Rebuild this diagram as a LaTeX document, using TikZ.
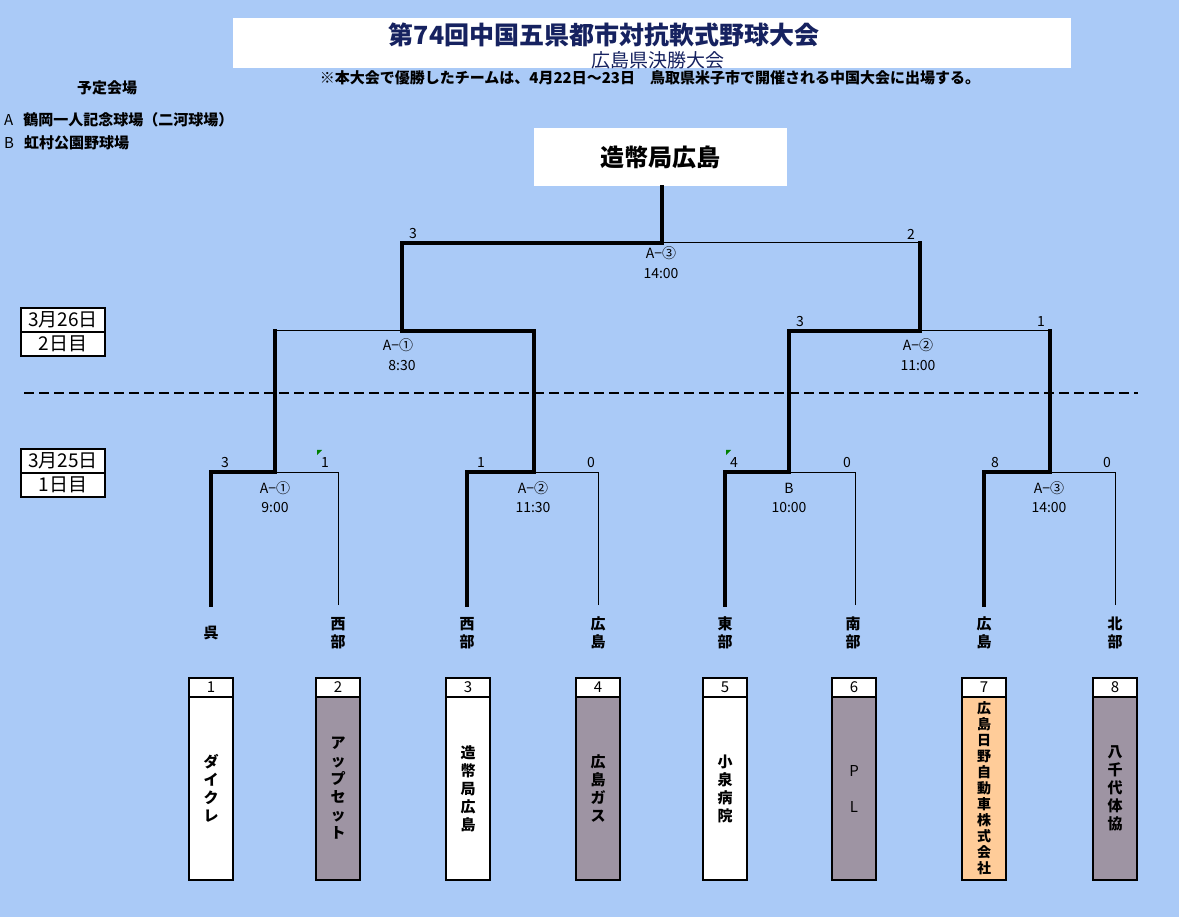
\documentclass[tikz,border=0pt]{standalone}
\usepackage{fontspec}
\setmainfont{Noto Sans CJK JP}
\usepackage{xcolor}
\usepackage{tikz}
\usetikzlibrary{positioning}
\definecolor{bgblue}{RGB}{170,202,247}
\definecolor{titlenavy}{RGB}{22,34,96}
\definecolor{teamgrey}{RGB}{158,148,163}
\definecolor{teampeach}{RGB}{255,204,153}
\definecolor{flaggreen}{RGB}{0,128,0}
\tikzset{
  win/.style     = {line width=3.2pt, line cap=rect},
  lose/.style    = {line width=1pt},
  divider/.style = {line width=2pt, dash pattern=on 10pt off 5pt},
  score/.style   = {inner sep=0pt, font=\fontsize{14}{16}\selectfont},
  game/.style    = {inner sep=0pt, font=\fontsize{14}{16}\selectfont},
  area/.style    = {inner sep=0pt, align=center, font=\fontsize{15}{18}\selectfont\bfseries},
  legend/.style  = {inner sep=0pt, anchor=west, font=\fontsize{15}{18}\selectfont\bfseries},
  team/.style    = {rectangle, draw, line width=2.2pt, outer sep=0pt,
                    minimum width=44pt, minimum height=183pt, inner sep=0pt,
                    align=center, font=\fontsize{15}{18}\selectfont\bfseries},
  teamno/.style  = {rectangle, draw, line width=2.2pt, outer sep=0pt, fill=white,
                    minimum width=44pt, minimum height=19pt, inner sep=0pt,
                    font=\fontsize{15}{18}\selectfont},
  datebox/.style = {rectangle, draw, line width=2pt, outer sep=0pt, fill=white,
                    minimum width=84pt, minimum height=24pt, inner sep=0pt,
                    font=\fontsize{19}{22}\selectfont},
  flag/.style    = {fill=flaggreen},
}

\begin{document}
\begin{tikzpicture}[x=1pt, y=-1pt]

%% ── Background ────────────────────────────────────────────────────────────
\useasboundingbox (0,0) rectangle (1179,917);
\fill[bgblue] (0,0) rectangle (1179,917);

%% ── Title ─────────────────────────────────────────────────────────────────
\node[fill=white, minimum width=838pt, minimum height=50pt, inner sep=0pt] (titlebox) at (652,43) {};
\node[inner sep=0pt, text=titlenavy, font=\fontsize{25}{28}\selectfont\bfseries] (title) at (604,35)
  {第74回中国五県都市対抗軟式野球大会};
\node[inner sep=0pt, text=titlenavy, font=\fontsize{19}{22}\selectfont] (subtitle) at (658,60) {広島県決勝大会};
\node[inner sep=0pt, font=\fontsize{15}{18}\selectfont\bfseries] (note) at (650,78)
  {※本大会で優勝したチームは、4月22日～23日　鳥取県米子市で開催される中国大会に出場する。};

%% ── Venues ────────────────────────────────────────────────────────────────
\node[inner sep=0pt, font=\fontsize{15}{18}\selectfont\bfseries] (venue) at (107,88) {予定会場};
\node[legend] (venueA) at (4,120) {\mdseries A\hspace{10pt}\bfseries 鶴岡一人記念球場（二河球場）};
\node[legend] (venueB) at (4,143) {\mdseries B\hspace{10pt}\bfseries 虹村公園野球場};

%% ── Days ──────────────────────────────────────────────────────────────────
\node[datebox] (d26) at (63,320) {3月26日};
\node[datebox, below=0pt of d26] (day2) {2日目};
\node[datebox] (d25) at (63,461) {3月25日};
\node[datebox, below=0pt of d25] (day1) {1日目};

\coordinate (dashL) at (24,393);
\coordinate (dashR) at (1138,393);
\draw[divider] (dashL) -- (dashR);

%% ── Champion ──────────────────────────────────────────────────────────────
\node[fill=white, minimum width=253pt, minimum height=58pt, inner sep=0pt,
      font=\fontsize{24}{28}\selectfont\bfseries] (champ) at (660.5,157) {造幣局広島};

%% ── Bracket points ────────────────────────────────────────────────────────
\coordinate (l1) at (211,605);  \coordinate (l2) at (338,605);
\coordinate (l3) at (467,605);  \coordinate (l4) at (598,605);
\coordinate (l5) at (725,605);  \coordinate (l6) at (855,605);
\coordinate (l7) at (984,605);  \coordinate (l8) at (1115,605);
\coordinate (m1) at (275,472);  \coordinate (m2) at (534,472);
\coordinate (m3) at (789,472);  \coordinate (m4) at (1050,472);
\coordinate (a1) at (275,331);  \coordinate (a2) at (534,331);
\coordinate (a3) at (789,331);  \coordinate (a4) at (1050,331);
\coordinate (s1) at (402,331);  \coordinate (s2) at (920,331);
\coordinate (b1) at (402,243);  \coordinate (b2) at (920,243);
\coordinate (f)  at (662,243);

%% ── Round 1 ───────────────────────────────────────────────────────────────
\draw[win]  (l1) |- (m1);
\draw[lose] (l2) |- (m1);
\draw[win]  (l3) |- (m2);
\draw[lose] (l4) |- (m2);
\draw[win]  (l5) |- (m3);
\draw[lose] (l6) |- (m3);
\draw[win]  (l7) |- (m4);
\draw[lose] (l8) |- (m4);

%% ── Semi-finals ───────────────────────────────────────────────────────────
\draw[win]  (m1) -- (a1);
\draw[lose] (a1) -- (s1);
\draw[win]  (m2) -- (a2) -- (s1);
\draw[win]  (m3) -- (a3) -- (s2);
\draw[win]  (m4) -- (a4);
\draw[lose] (a4) -- (s2);

%% ── Final ─────────────────────────────────────────────────────────────────
\draw[win]  (s1) -- (b1) -- (f);
\draw[win]  (s2) -- (b2);
\draw[lose] (b2) -- (f);
\draw[win]  (f) -- (f |- champ.south);

%% ── Scores ────────────────────────────────────────────────────────────────
\node[score] (sc1a) at (225,463) {3};
\node[score] (sc1b) at (325,463) {1};
\node[score] (sc2a) at (481,463) {1};
\node[score] (sc2b) at (591,463) {0};
\node[score] (sc3a) at (734,463) {4};
\node[score] (sc3b) at (847,463) {0};
\node[score] (sc4a) at (995,463) {8};
\node[score] (sc4b) at (1107,463) {0};
\node[score] (sc6a) at (800,322) {3};
\node[score] (sc6b) at (1041,322) {1};
\node[score] (sc7a) at (413,234) {3};
\node[score] (sc7b) at (911,234) {2};

\fill[flag] (317,450) -- (322,450) -- (317,455) -- cycle;
\fill[flag] (726,450) -- (731,450) -- (726,455) -- cycle;

%% ── Games ─────────────────────────────────────────────────────────────────
\node[game] (g1)  at (275,488) {A−①};   \node[game] (t1)  at (275,508) {9:00};
\node[game] (g2)  at (533,488) {A−②};   \node[game] (t2)  at (533,508) {11:30};
\node[game] (g3)  at (789,488) {B};      \node[game] (t3)  at (789,508) {10:00};
\node[game] (g4)  at (1049,488) {A−③};  \node[game] (t4)  at (1049,508) {14:00};
\node[game] (g5)  at (398,345) {A−①};   \node[game] (t5)  at (402,366) {8:30};
\node[game] (g6)  at (918,345) {A−②};   \node[game] (t6)  at (918,366) {11:00};
\node[game] (g7)  at (661,253) {A−③};   \node[game] (t7)  at (661,274) {14:00};

%% ── Areas ─────────────────────────────────────────────────────────────────
\node[area] (r1) at (211,633) {呉};
\node[area] (r2) at (338,633) {西\\部};
\node[area] (r3) at (467,633) {西\\部};
\node[area] (r4) at (598,633) {広\\島};
\node[area] (r5) at (725,633) {東\\部};
\node[area] (r6) at (853,633) {南\\部};
\node[area] (r7) at (984,633) {広\\島};
\node[area] (r8) at (1115,633) {北\\部};

%% ── Teams ─────────────────────────────────────────────────────────────────
\node[team, fill=white] (team1) at (211,788.5) {ダ\\イ\\ク\\レ};
\node[teamno, above=0pt of team1] (no1) {1};
\node[team, fill=teamgrey] (team2) at (338,788.5) {ア\\ッ\\プ\\セ\\ッ\\ト};
\node[teamno, above=0pt of team2] (no2) {2};
\node[team, fill=white] (team3) at (468,788.5) {造\\幣\\局\\広\\島};
\node[teamno, above=0pt of team3] (no3) {3};
\node[team, fill=teamgrey] (team4) at (598,788.5) {広\\島\\ガ\\ス};
\node[teamno, above=0pt of team4] (no4) {4};
\node[team, fill=white] (team5) at (725,788.5) {小\\泉\\病\\院};
\node[teamno, above=0pt of team5] (no5) {5};
\node[team, fill=teamgrey, font=\fontsize{15}{18}\selectfont] (team6) at (854,788.5) {P\\[18pt]L};
\node[teamno, above=0pt of team6] (no6) {6};
\node[team, fill=teampeach, font=\fontsize{14}{16}\selectfont\bfseries] (team7) at (984,788.5)
  {広\\島\\日\\野\\自\\動\\車\\株\\式\\会\\社};
\node[teamno, above=0pt of team7] (no7) {7};
\node[team, fill=teamgrey] (team8) at (1115,788.5) {八\\千\\代\\体\\協};
\node[teamno, above=0pt of team8] (no8) {8};

\end{tikzpicture}
\end{document}
